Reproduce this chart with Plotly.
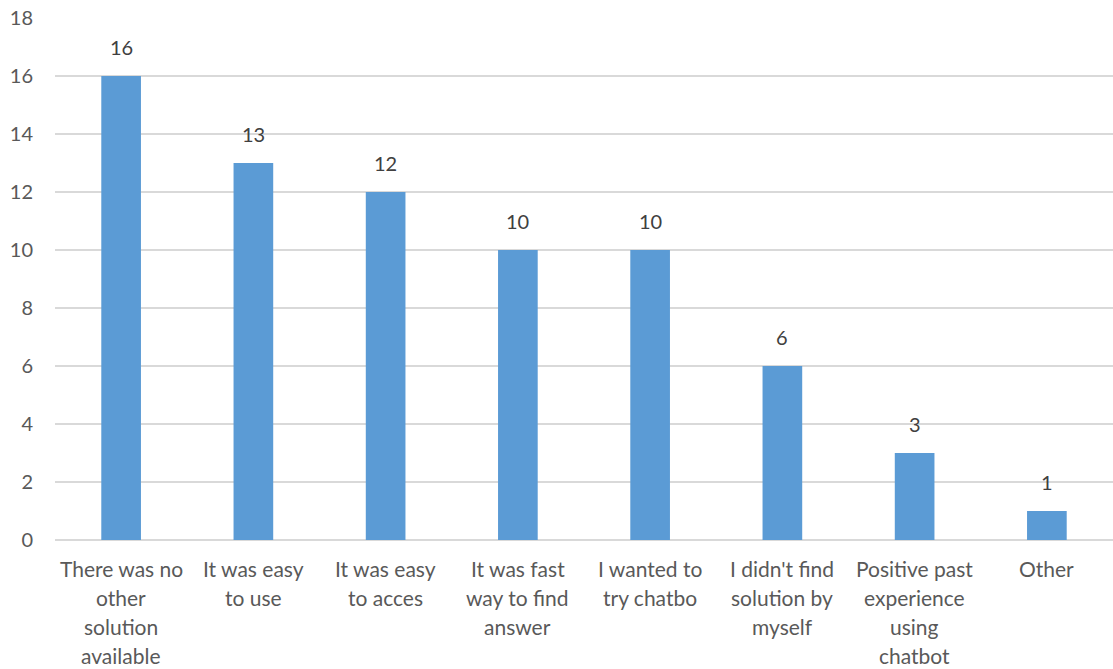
import plotly.graph_objects as go

categories = [
    "There was no other solution available",
    "It was easy to use",
    "It was easy to acces",
    "It was fast way to find answer",
    "I wanted to try chatbo",
    "I didn't find solution by myself",
    "Positive past experience using chatbot",
    "Other",
]
label_lines = [
    ["There was no", "other", "solution", "available"],
    ["It was easy", "to use"],
    ["It was easy", "to acces"],
    ["It was fast", "way to find", "answer"],
    ["I wanted to", "try chatbo"],
    ["I didn't find", "solution by", "myself"],
    ["Positive past", "experience", "using", "chatbot"],
    ["Other"],
]
counts = [16, 13, 12, 10, 10, 6, 3, 1]
y_ticks = [0, 2, 4, 6, 8, 10, 12, 14, 16, 18]

FONT = "Lato, Open Sans, sans-serif"
TICK_COLOR = "#595959"

fig = go.Figure()
fig.add_trace(go.Bar(
    x=categories,
    y=counts,
    marker=dict(color="#5B9BD5", line=dict(width=0)),
    width=0.3,
    hoverinfo="x+y",
))

annotations = []
# value labels above each bar
for cat, v in zip(categories, counts):
    annotations.append(dict(
        x=cat, y=v, xref="x", yref="y", text=str(v), showarrow=False,
        yanchor="middle", yshift=29,
        font=dict(family=FONT, size=20, color="#404040"),
    ))
# wrapped category labels under the axis
for cat, lines in zip(categories, label_lines):
    for i, line in enumerate(lines):
        annotations.append(dict(
            x=cat, y=0, xref="x", yref="paper", text=line, showarrow=False,
            yanchor="middle", yshift=-(28 + 29 * i),
            font=dict(family=FONT, size=21, color=TICK_COLOR),
        ))

fig.update_layout(
    width=1113, height=669,
    margin=dict(l=55, r=0, t=18, b=129),
    plot_bgcolor="white", paper_bgcolor="white",
    showlegend=False,
    bargap=0.7,
    annotations=annotations,
    xaxis=dict(
        showticklabels=False, showgrid=False, zeroline=False,
        showline=False, ticks="",
    ),
    yaxis=dict(
        range=[0, 18], tickvals=y_ticks,
        showgrid=True, gridcolor="#D9D9D9", gridwidth=1.5,
        zeroline=True, zerolinecolor="#D9D9D9", zerolinewidth=1.5,
        showline=False, ticks="", ticklabelstandoff=21,
        tickfont=dict(family=FONT, size=20, color=TICK_COLOR),
    ),
)

fig.write_html("out.html")
